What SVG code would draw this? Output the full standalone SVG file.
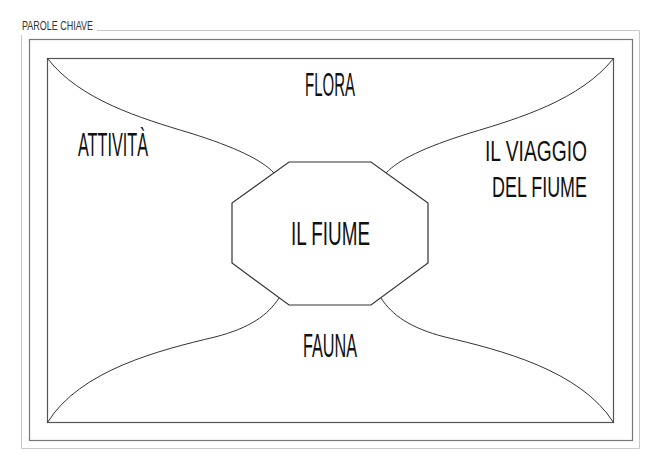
<svg xmlns="http://www.w3.org/2000/svg" width="661" height="467" viewBox="0 0 661 467">
<style>
.lbl{font-family:"Liberation Sans","Open Sans",sans-serif;font-weight:400;fill:#111;font-size:33px}
.lbl2{font-size:30px}
.title{font-family:"Liberation Sans","Open Sans",sans-serif;font-weight:400;fill:#333;font-size:13px}
.frame-outer{fill:none;stroke:#c8c8c8;stroke-width:1}
.frame-mid{fill:none;stroke:#777;stroke-width:1.2}
.frame-in{fill:none;stroke:#555;stroke-width:1.2}
.curve{fill:none;stroke:#333;stroke-width:1}
.oct{fill:#fff;stroke:#333;stroke-width:1.2}
</style>
<rect width="661" height="467" fill="#fff"/>
<g id="frame">
<text class="title" x="22" y="30" textLength="71" lengthAdjust="spacingAndGlyphs">PAROLE CHIAVE</text>
<path class="frame-outer" d="M97,30.5 H639.5 V448.5 H21.5 V35"/>
<rect class="frame-mid" x="29.5" y="39.5" width="603" height="401"/>
<rect class="frame-in" x="47.5" y="58.5" width="566" height="364"/>
</g>
<g id="connectors">
<path class="curve" d="M47.5,58.5 C80,100 140,118 190,133 C235,147 262,160 274,173"/>
<path class="curve" d="M613.5,58.5 C580,100 520,118 470,133 C425,147 398,160 386,173"/>
<path class="curve" d="M47.5,422.5 C80,370 160,350 215,337 C250,328 268,315 279,298"/>
<path class="curve" d="M613.5,422.5 C580,370 500,350 445,337 C410,328 392,315 381,298"/>
</g>
<g id="center">
<polygon class="oct" points="289,162 371,162 428,203 428,263 371,305 289,305 232,263 232,203"/>
<text class="lbl" x="291" y="245" textLength="79" lengthAdjust="spacingAndGlyphs">IL FIUME</text>
</g>
<g id="flora">
<text class="lbl" x="305" y="96" textLength="50" lengthAdjust="spacingAndGlyphs">FLORA</text>
</g>
<g id="attivita">
<text class="lbl" x="78" y="156" textLength="70" lengthAdjust="spacingAndGlyphs">ATTIVITÀ</text>
</g>
<g id="viaggio">
<text class="lbl lbl2" x="485" y="161" textLength="102" lengthAdjust="spacingAndGlyphs">IL VIAGGIO</text>
<text class="lbl lbl2" x="492" y="197" textLength="95" lengthAdjust="spacingAndGlyphs">DEL FIUME</text>
</g>
<g id="fauna">
<text class="lbl" x="303" y="357" textLength="54" lengthAdjust="spacingAndGlyphs">FAUNA</text>
</g>
</svg>
